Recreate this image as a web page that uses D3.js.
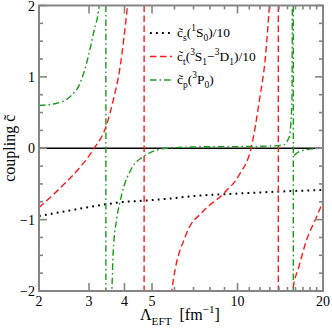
<!DOCTYPE html>
<html>
<head>
<meta charset="utf-8">
<script src="https://cdn.jsdelivr.net/npm/d3@7"></script>
<style>
  body { margin: 0; background: #fff; }
  text { font-family: "Liberation Serif", "DejaVu Serif", serif; fill: #000; }
</style>
</head>
<body>
<svg id="chart" width="332" height="336"></svg>
<script>
// values: [Lambda_EFT, coupling]
const xTicks = [2, 3, 4, 5, 10, 20];
const xMinorTicks = [6, 7, 8, 9, 11, 12, 13, 14, 15, 16, 17, 18, 19];
const yTicks = [-2, -1, 0, 1, 2];
const yMinorTicks = d3.range(-2, 2.01, 0.25);

// c_s(1S0)/10
const cs = [[2, -0.95], [2.13, -0.93], [2.5, -0.88], [2.94, -0.83], [3.44, -0.785],
  [3.86, -0.757], [4.66, -0.735], [5.59, -0.71], [7.34, -0.663], [8.87, -0.645],
  [11, -0.627], [14, -0.607], [17, -0.594], [20, -0.585]];

// c_t(3S1-3D1)/10, three branches split by poles
const ct1 = [[2, -0.83], [2.37, -0.56], [2.77, -0.28], [3.13, 0], [3.44, 0.3],
  [3.65, 0.67], [3.86, 1.14], [4.1, 2.0], [4.2, 2.4]];
const ct2 = [[5.8, -2.2], [5.87, -2.0], [6.59, -1.21], [7.54, -0.89], [8.87, -0.645],
  [10.15, -0.37], [11.16, 0], [11.94, 0.67], [12.6, 1.37], [12.94, 2.0], [13.1, 2.4]];
const ct3 = [[15.6, -2.1], [15.65, -2.0], [16.51, -1.64], [17.42, -1.31], [18.89, -0.98], [20, -0.75]];
const ctPoles = [4.69, 13.92];

// c_p(3P0)
const cp1 = [[2, 0.6], [2.31, 0.63], [2.57, 0.72], [2.79, 0.91], [2.98, 1.28],
  [3.11, 1.61], [3.26, 2.0], [3.3, 2.2]];
const cp2 = [[3.6, -2.1], [3.61, -2.0], [3.65, -1.45], [3.76, -0.98], [3.91, -0.65],
  [4.24, -0.28], [4.65, -0.12], [5.63, 0], [7.3, 0.02], [11.1, 0.025], [14.42, 0.04],
  [15.22, 0.16], [15.55, 0.67], [15.6, 2.0], [15.62, 2.3]];
const cp3 = [[15.8, -0.1], [16.37, -0.055], [17.53, -0.02], [20, 0]];
const cpPoles = [3.44, 15.72];

const svg = d3.select("#chart");
const pLeft = 39, pRight = 323, pTop = 5.5, pBottom = 291;
const frameColor = "#858585";
const red = "#ff1a1a", green = "#1a9a1a";

const x = d3.scaleLog().domain([2, 20]).range([pLeft, pRight]);
const y = d3.scaleLinear().domain([-2, 2]).range([pBottom, pTop]);

svg.append("defs").append("clipPath").attr("id", "plotClip")
  .append("rect").attr("x", pLeft).attr("y", pTop)
  .attr("width", pRight - pLeft).attr("height", pBottom - pTop);

// zero line
svg.append("line")
  .attr("x1", pLeft).attr("x2", pRight).attr("y1", y(0)).attr("y2", y(0))
  .attr("stroke", "#000").attr("stroke-width", 1.5);

const plot = svg.append("g").attr("clip-path", "url(#plotClip)");
const line = d3.line().x(d => x(d[0])).y(d => y(d[1])).curve(d3.curveMonotoneX);

const styles = {
  s: { color: "#000", dash: "1.8,4.2", width: 2 },
  t: { color: red, dash: "6.5,3.5", width: 1.4 },
  p: { color: green, dash: "6.5,3,1.6,3", width: 1.4 }
};

function drawBranches(branches, st) {
  branches.forEach(b => {
    plot.append("path").attr("d", line(b))
      .attr("fill", "none").attr("stroke", st.color)
      .attr("stroke-width", st.width).attr("stroke-dasharray", st.dash);
  });
}
function drawPoles(poles, st) {
  poles.forEach(p => {
    plot.append("line")
      .attr("x1", x(p)).attr("x2", x(p)).attr("y1", pTop).attr("y2", pBottom)
      .attr("stroke", st.color).attr("stroke-width", st.width)
      .attr("stroke-dasharray", st.dash);
  });
}

drawBranches([cs], styles.s);
drawBranches([ct1, ct2, ct3], styles.t);
drawPoles(ctPoles, styles.t);
drawBranches([cp1, cp2, cp3], styles.p);
drawPoles(cpPoles, styles.p);

// frame and ticks
const axes = svg.append("g").attr("stroke", frameColor).attr("stroke-width", 1.6);
axes.append("rect").attr("x", pLeft).attr("y", pTop)
  .attr("width", pRight - pLeft).attr("height", pBottom - pTop).attr("fill", "none").attr("stroke-width", 2);

xTicks.slice(1, -1).forEach(v => {
  axes.append("line").attr("x1", x(v)).attr("x2", x(v)).attr("y1", pBottom).attr("y2", pBottom - 8);
  axes.append("line").attr("x1", x(v)).attr("x2", x(v)).attr("y1", pTop).attr("y2", pTop + 8);
});
xMinorTicks.forEach(v => {
  axes.append("line").attr("x1", x(v)).attr("x2", x(v)).attr("y1", pBottom).attr("y2", pBottom - 4);
  axes.append("line").attr("x1", x(v)).attr("x2", x(v)).attr("y1", pTop).attr("y2", pTop + 4);
});
yMinorTicks.forEach(v => {
  const len = Math.abs(v - Math.round(v)) < 1e-6 ? 8 : 4;
  axes.append("line").attr("x1", pLeft).attr("x2", pLeft + len).attr("y1", y(v)).attr("y2", y(v));
  axes.append("line").attr("x1", pRight).attr("x2", pRight - len).attr("y1", y(v)).attr("y2", y(v));
});

// tick labels
svg.append("g").selectAll("text").data(xTicks).join("text")
  .attr("x", d => x(d)).attr("y", 306).attr("text-anchor", "middle")
  .style("font-size", "14px").text(d => d);
svg.append("g").selectAll("text").data(yTicks).join("text")
  .attr("x", 35).attr("y", d => y(d) + 5).attr("text-anchor", "end")
  .style("font-size", "14px").text(d => d < 0 ? "\u2212" + Math.abs(d) : d);

// rich text helper: parts = [text, mode] where mode is "", "sub" or "sup"
function rich(sel, parts, size) {
  let off = 0;
  parts.forEach(([t, mode]) => {
    const target = mode === "sub" ? size * 0.3 : mode === "sup" ? -size * 0.42 : 0;
    sel.append("tspan").attr("dy", target - off)
      .style("font-size", (mode ? size * 0.7 : size) + "px").text(t);
    off = target;
  });
}

// axis titles
const xt = svg.append("text").attr("x", 140).attr("y", 320).style("white-space", "pre");
rich(xt, [["\u039B", ""], ["EFT", "sub"], ["  [fm", ""], ["\u22121", "sup"], ["]", ""]], 16);

svg.append("text")
  .attr("transform", `translate(15, ${y(0)}) rotate(-90)`)
  .attr("text-anchor", "middle").style("font-size", "16px")
  .text("coupling c\u0303");

// legend
const legendRows = [
  { st: styles.s, parts: [["c\u0303", ""], ["s", "sub"], ["(", ""], ["1", "sup"], ["S", ""], ["0", "sub"], [")/10", ""]] },
  { st: styles.t, parts: [["c\u0303", ""], ["t", "sub"], ["(", ""], ["3", "sup"], ["S", ""], ["1", "sub"], ["\u2212", ""], ["3", "sup"], ["D", ""], ["1", "sub"], [")/10", ""]] },
  { st: styles.p, parts: [["c\u0303", ""], ["p", "sub"], ["(", ""], ["3", "sup"], ["P", ""], ["0", "sub"], [")", ""]] }
];
legendRows.forEach((r, i) => {
  const ly = 33 + i * 23.5;
  svg.append("line").attr("x1", 150).attr("x2", 172).attr("y1", ly).attr("y2", ly)
    .attr("stroke", r.st.color).attr("stroke-width", r.st.width)
    .attr("stroke-dasharray", r.st.dash);
  const t = svg.append("text").attr("x", 177).attr("y", ly + 4);
  rich(t, r.parts, 13.5);
});
</script>
</body>
</html>
